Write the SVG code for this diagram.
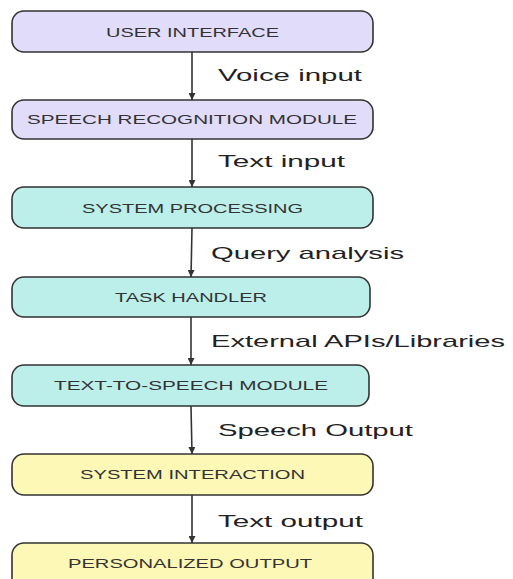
<svg xmlns="http://www.w3.org/2000/svg" width="513" height="579" viewBox="0 0 513 579">
<style>
.box{stroke:#333;stroke-width:1.6}
.p{fill:#E1DCFA}
.c{fill:#BDEFEA}
.y{fill:#FDF8B6}
.nt{font-family:"Liberation Sans",Arial,sans-serif;font-size:13.5px;fill:#333;text-anchor:middle}
.lb{font-family:"Liberation Sans",Arial,sans-serif;font-size:17px;fill:#222}
.ar{stroke:#333;stroke-width:1.6;fill:none}
</style>
<defs>
<marker id="ah" viewBox="0 0 10 10" refX="10" refY="5" markerWidth="7" markerHeight="7" markerUnits="userSpaceOnUse" orient="auto">
<path d="M0,0 L10,5 L0,10 z" fill="#333"/>
</marker>
</defs>
<rect width="513" height="579" fill="#fff"/>
<g id="connectors">
<line class="ar" x1="192" y1="52" x2="192" y2="100" marker-end="url(#ah)"/>
<line class="ar" x1="192" y1="139" x2="192" y2="187" marker-end="url(#ah)"/>
<line class="ar" x1="192" y1="228" x2="191" y2="277" marker-end="url(#ah)"/>
<line class="ar" x1="191" y1="317" x2="191" y2="365" marker-end="url(#ah)"/>
<line class="ar" x1="191" y1="406" x2="192" y2="454" marker-end="url(#ah)"/>
<line class="ar" x1="192" y1="495" x2="192" y2="543" marker-end="url(#ah)"/>
<text class="lb" x="218" y="81" textLength="144" lengthAdjust="spacingAndGlyphs">Voice input</text>
<text class="lb" x="218" y="167" textLength="127" lengthAdjust="spacingAndGlyphs">Text input</text>
<text class="lb" x="211" y="259" textLength="193" lengthAdjust="spacingAndGlyphs">Query analysis</text>
<text class="lb" x="211" y="347" textLength="294" lengthAdjust="spacingAndGlyphs">External APIs/Libraries</text>
<text class="lb" x="218" y="436" textLength="195" lengthAdjust="spacingAndGlyphs">Speech Output</text>
<text class="lb" x="218" y="527" textLength="145" lengthAdjust="spacingAndGlyphs">Text output</text>
</g>
<g id="n1"><rect class="box p" x="12" y="11" width="361" height="41" rx="12"/><text class="nt" x="192.5" y="37" textLength="173" lengthAdjust="spacingAndGlyphs">USER INTERFACE</text></g>
<g id="n2"><rect class="box p" x="12" y="100" width="361" height="39" rx="12"/><text class="nt" x="192" y="124" textLength="330" lengthAdjust="spacingAndGlyphs">SPEECH RECOGNITION MODULE</text></g>
<g id="n3"><rect class="box c" x="12" y="187" width="361" height="41" rx="12"/><text class="nt" x="192.5" y="213" textLength="221" lengthAdjust="spacingAndGlyphs">SYSTEM PROCESSING</text></g>
<g id="n4"><rect class="box c" x="12" y="277" width="358" height="40" rx="12"/><text class="nt" x="191" y="302" textLength="152" lengthAdjust="spacingAndGlyphs">TASK HANDLER</text></g>
<g id="n5"><rect class="box c" x="12" y="365" width="357" height="41" rx="12"/><text class="nt" x="191" y="390" textLength="274" lengthAdjust="spacingAndGlyphs">TEXT-TO-SPEECH MODULE</text></g>
<g id="n6"><rect class="box y" x="12" y="454" width="361" height="41" rx="12"/><text class="nt" x="192.5" y="479" textLength="225" lengthAdjust="spacingAndGlyphs">SYSTEM INTERACTION</text></g>
<g id="n7"><rect class="box y" x="12" y="543" width="361" height="50" rx="12"/><text class="nt" x="190" y="568" textLength="244" lengthAdjust="spacingAndGlyphs">PERSONALIZED OUTPUT</text></g>
</svg>
